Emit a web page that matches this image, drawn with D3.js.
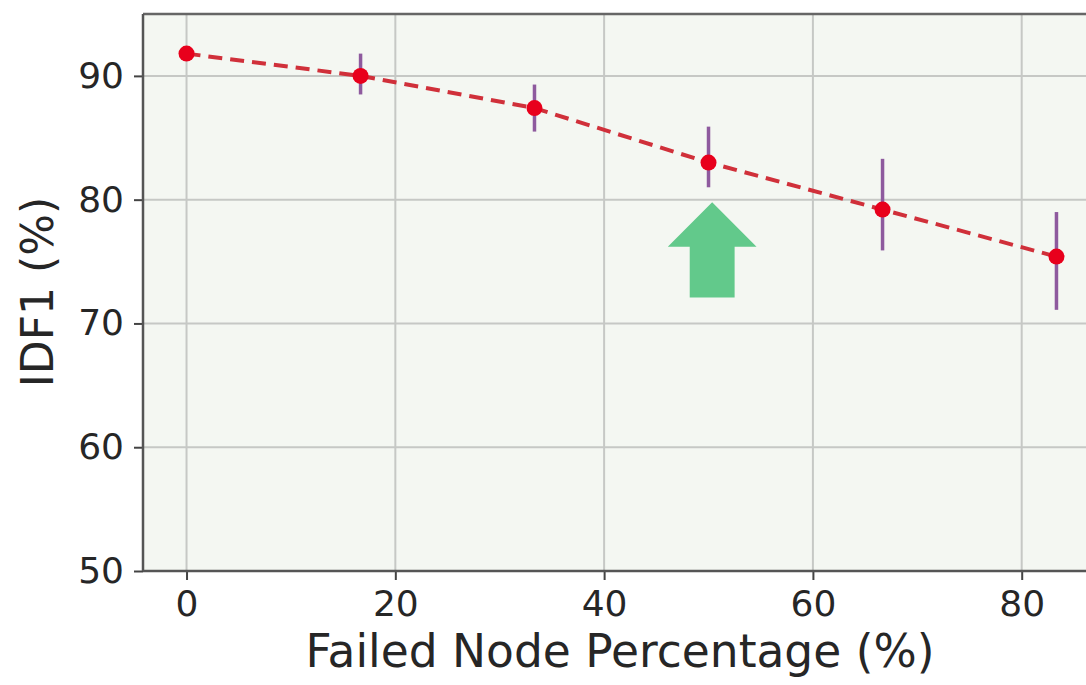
<!DOCTYPE html>
<html>
<head>
<meta charset="utf-8">
<script src="https://cdn.jsdelivr.net/npm/d3@7"></script>
<style>
  body { margin: 0; background: #fff; }
  text { font-family: "DejaVu Sans", sans-serif; fill: #262626; }
</style>
</head>
<body>
<div id="chart"></div>
<script>
// data
var failedPct = [0, 16.67, 33.33, 50, 66.67, 83.33];
var idf1 = [91.8, 90.0, 87.4, 83.0, 79.2, 75.4];
var errLow = [91.8, 88.5, 85.5, 81.0, 75.9, 71.1];
var errHigh = [91.8, 91.8, 89.3, 85.9, 83.3, 79.0];
var xTicks = [0, 20, 40, 60, 80];
var yTicks = [50, 60, 70, 80, 90];
// up arrow annotation (x, y in data units)
var arrowPts = [[50.35, 79.8], [54.6, 76.2], [52.5, 76.2], [52.5, 72.1],
                [48.2, 72.1], [48.2, 76.2], [46.1, 76.2]];

var W = 1086, H = 685,
    LEFT = 143, TOP = 14, BOTTOM = 571, RIGHT = 1100;

var svg = d3.select('#chart')
  .append('svg')
  .attr('width', W)
  .attr('height', H);

var x = d3.scaleLinear().domain([-4.17, 87.5]).range([LEFT, RIGHT]);
var y = d3.scaleLinear().domain([50, 95]).range([BOTTOM, TOP]);

// plot background
svg.append('rect')
  .attr('x', LEFT).attr('y', TOP)
  .attr('width', RIGHT - LEFT).attr('height', BOTTOM - TOP)
  .style('fill', '#f4f7f2');

// grid
svg.selectAll('line.gx')
  .data(xTicks)
  .enter()
  .append('line')
  .attr('class', 'gx')
  .attr('x1', function(d) { return x(d); })
  .attr('x2', function(d) { return x(d); })
  .attr('y1', TOP).attr('y2', BOTTOM)
  .attr('stroke', '#c6c8c5').attr('stroke-width', 2);

svg.selectAll('line.gy')
  .data(yTicks)
  .enter()
  .append('line')
  .attr('class', 'gy')
  .attr('x1', LEFT).attr('x2', RIGHT)
  .attr('y1', function(d) { return y(d); })
  .attr('y2', function(d) { return y(d); })
  .attr('stroke', '#c6c8c5').attr('stroke-width', 2);

// axes
var xAxis = d3.axisBottom(x).tickValues(xTicks).tickSize(9).tickPadding(10);
var yAxis = d3.axisLeft(y).tickValues(yTicks).tickSize(9).tickPadding(10);

var gx = svg.append('g').attr('transform', 'translate(0,' + BOTTOM + ')').call(xAxis);
var gy = svg.append('g').attr('transform', 'translate(' + LEFT + ',0)').call(yAxis);

[gx, gy].forEach(function(g) {
  g.select('.domain').remove();
  g.selectAll('line').attr('stroke', '#444').attr('stroke-width', 2);
  g.selectAll('text')
    .style('font-size', '36px')
    .style('font-family', '"DejaVu Sans", sans-serif')
    .attr('fill', '#262626');
});

// spines
svg.append('line')
  .attr('x1', LEFT).attr('x2', RIGHT).attr('y1', TOP).attr('y2', TOP)
  .attr('stroke', '#666').attr('stroke-width', 2.5);
svg.append('line')
  .attr('x1', LEFT).attr('x2', LEFT).attr('y1', TOP).attr('y2', BOTTOM)
  .attr('stroke', '#555').attr('stroke-width', 2.5);
svg.append('line')
  .attr('x1', LEFT).attr('x2', RIGHT).attr('y1', BOTTOM).attr('y2', BOTTOM)
  .attr('stroke', '#555').attr('stroke-width', 2.5);

// arrow
svg.append('polygon')
  .attr('points', arrowPts.map(function(p) { return x(p[0]) + ',' + y(p[1]); }).join(' '))
  .style('fill', '#62c98b');

var pts = failedPct.map(function(v, i) {
  return { x: v, y: idf1[i], lo: errLow[i], hi: errHigh[i] };
});

// error bars
svg.selectAll('line.err')
  .data(pts)
  .enter()
  .append('line')
  .attr('class', 'err')
  .attr('x1', function(d) { return x(d.x); })
  .attr('x2', function(d) { return x(d.x); })
  .attr('y1', function(d) { return y(d.lo); })
  .attr('y2', function(d) { return y(d.hi); })
  .attr('stroke', '#8e5a9e').attr('stroke-width', 3.5);

// dashed line
var line = d3.line()
  .x(function(d) { return x(d.x); })
  .y(function(d) { return y(d.y); });

svg.append('path')
  .datum(pts)
  .attr('d', line)
  .attr('fill', 'none')
  .attr('stroke', '#d0303a')
  .attr('stroke-width', 4)
  .attr('stroke-dasharray', '14,8');

svg.selectAll('circle.pt')
  .data(pts)
  .enter()
  .append('circle')
  .attr('class', 'pt')
  .attr('cx', function(d) { return x(d.x); })
  .attr('cy', function(d) { return y(d.y); })
  .attr('r', 8)
  .style('fill', '#e8001c');

// labels
svg.append('text')
  .attr('x', (305 + 935) / 2)
  .attr('y', 667)
  .attr('text-anchor', 'middle')
  .style('font-size', '45.5px')
  .text('Failed Node Percentage (%)');

svg.append('text')
  .attr('transform', 'translate(53,292) rotate(-90)')
  .attr('text-anchor', 'middle')
  .style('font-size', '44px')
  .text('IDF1 (%)');
</script>
</body>
</html>
